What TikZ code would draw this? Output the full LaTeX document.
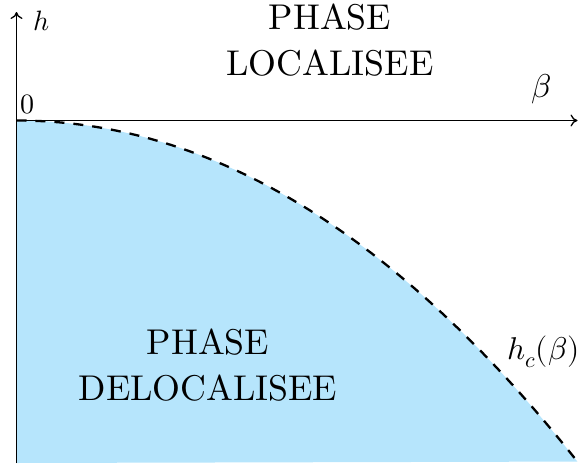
\documentclass[tikz,border=0pt]{standalone}
\usepackage{fontspec}
\usepackage{unicode-math}
\setmainfont{lmroman10-regular}[Extension=.otf]
\setmathfont{Latin Modern Math}
\usetikzlibrary{arrows.meta}
\definecolor{phaseblue}{RGB}{182,229,252}
\begin{document}
\begin{tikzpicture}[x=1pt,y=-1pt,
  axis/.style={line width=1.3pt,-{To[length=7pt,width=12pt]}},
  crit/.style={line width=2.3pt,dash pattern=on 10pt off 9pt},
  bigtext/.style={font=\fontsize{35.8}{46}\selectfont,align=center}]
\useasboundingbox (0,0) rectangle (578,463);
\coordinate (O) at (16.5,120.5);
\coordinate (ybot) at (16.5,463);
\coordinate (ytop) at (16.5,12);
\coordinate (xend) at (577.5,120.5);
\fill[phaseblue] (O) -- plot[domain=0:5.61,samples=80] ({16.5+100*\x},{120.5+10*\x*\x+0.15*\x*\x*\x}) -- (ybot) -- cycle;
\draw[crit] plot[domain=0:5.61,samples=80] ({16.5+100*\x},{120.5+10*\x*\x+0.15*\x*\x*\x});
\draw[axis] (O) -- (xend);
\draw[axis] (ybot) -- (ytop);
\node[font=\fontsize{28}{32}\selectfont] (hlab) at (42,21) {$h$};
\node[font=\fontsize{28}{32}\selectfont,anchor=base] (zero) at (27,113) {$0$};
\node[font=\fontsize{33}{36}\selectfont] (blab) at (541,89) {$\beta$};
\node[font=\fontsize{31.5}{36}\selectfont,anchor=west,inner sep=0pt] (hc) at (507,352) {$h_c(\beta)$};
\node[bigtext] (loc) at (330,40) {PHASE\\LOCALISEE};
\node[bigtext] (deloc) at (208,365) {PHASE\\DELOCALISEE};
\end{tikzpicture}
\end{document}
